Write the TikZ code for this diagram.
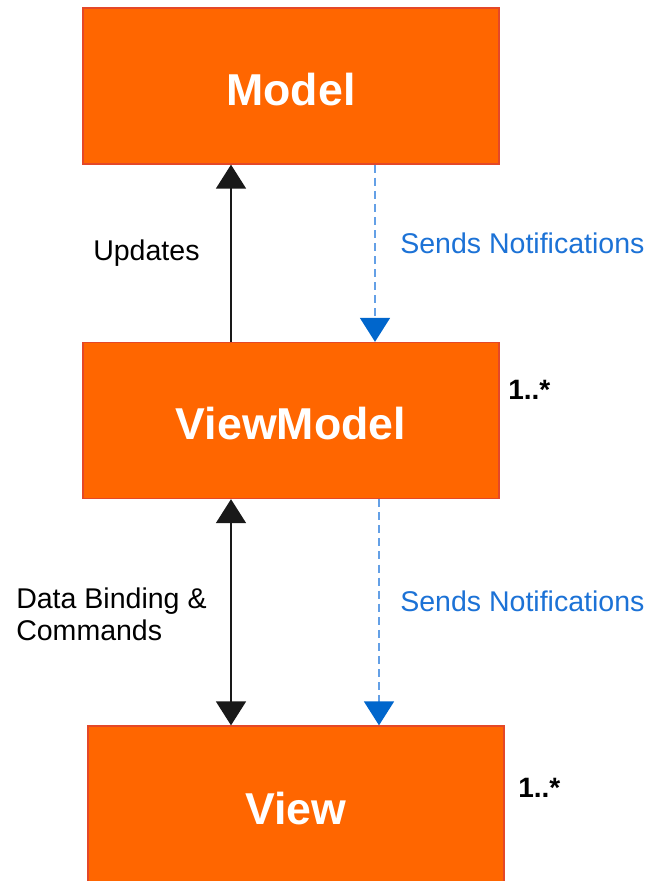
\documentclass[tikz,border=0pt]{standalone}
\usepackage{fontspec}
\setmainfont{Liberation Sans}
\usetikzlibrary{arrows.meta}

\definecolor{boxfill}{RGB}{255,102,0}
\definecolor{boxedge}{RGB}{228,72,40}
\definecolor{notetip}{RGB}{0,102,204}
\definecolor{noteline}{RGB}{100,160,230}
\definecolor{notetext}{RGB}{28,114,214}

\begin{document}
\begin{tikzpicture}[x=0.75pt,y=0.75pt,yscale=-1,xscale=1,
  layer/.style={draw=boxedge,line width=1pt,fill=boxfill,text=white,
    minimum width=312pt,minimum height=117pt,inner sep=0pt,text height=29pt,
    font=\fontsize{33.5}{38}\selectfont\bfseries},
  calls/.style={line width=1.3pt,draw=black!90},
  notifies/.style={line width=1.3pt,draw=noteline,dash pattern={on 6pt off 3.8pt}},
  lbl/.style={inner sep=0pt,font=\fontsize{21.4}{24}\selectfont},
  mult/.style={inner sep=0pt,font=\fontsize{21}{24}\selectfont\bfseries}]
\useasboundingbox (0,0) rectangle (648,881);

%Shape: Rectangle
\node (model) [layer] at (291,86) {Model};
%Shape: Rectangle
\node (vmodel) [layer] at (291,420.5) {ViewModel};
%Shape: Rectangle
\node (view) [layer,text height=31pt] at (296,804) {View};

%Straight Lines
\draw [calls,-{Triangle[width=22.5pt,length=18pt]}] ([xshift=-45pt]vmodel.north) -- ([xshift=-45pt]model.south);
%Straight Lines
\draw [notifies,-{Triangle[width=22.5pt,length=18pt,color=notetip]}] ([xshift=63pt]model.south) -- ([xshift=63pt]vmodel.north);
%Straight Lines
\draw [calls,{Triangle[width=22.5pt,length=18pt]}-{Triangle[width=22.5pt,length=18pt]}] ([xshift=-45pt]vmodel.south) -- ([xshift=-48.75pt]view.north);
%Straight Lines
\draw [notifies,-{Triangle[width=22.5pt,length=18pt,color=notetip]}] ([xshift=66pt]vmodel.south) -- ([xshift=62.25pt]view.north);

% Text Node
\node (updates) [lbl,anchor=base west] at (93,260) {Updates};
% Text Node
\node (notify1) [lbl,anchor=base west,text=notetext] at (400,253) {Sends Notifications};
% Text Node
\node (mult1) [mult,anchor=base west] at (508,399) {1..*};
% Text Node
\node (binding) [lbl,anchor=base west,align=left] at (16,640) {Data Binding \&\\Commands};
% Text Node
\node (notify2) [lbl,anchor=base west,text=notetext] at (400,611) {Sends Notifications};
% Text Node
\node (mult2) [mult,anchor=base west] at (518,797) {1..*};

\end{tikzpicture}
\end{document}
